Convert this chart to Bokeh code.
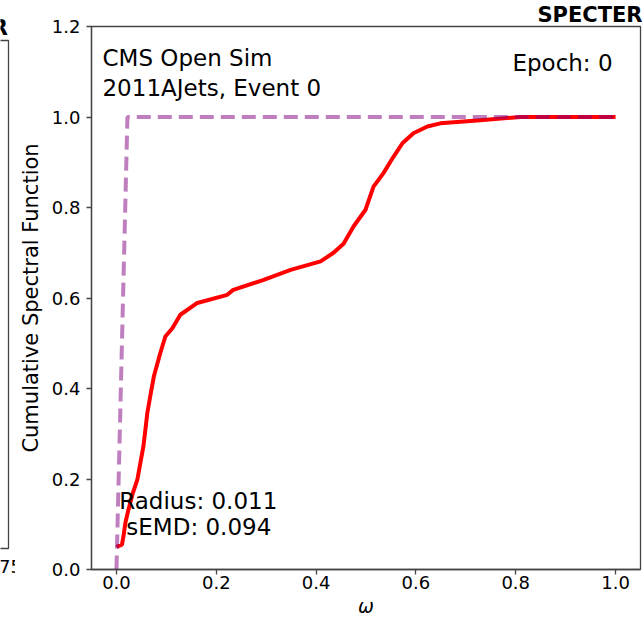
from bokeh.plotting import figure
from bokeh.models import (Range1d, Label, FixedTicker, PrintfTickFormatter,
                          BoxAnnotation)
from bokeh.embed import file_html
from bokeh.resources import INLINE

# ---- data ----
omega = [0.0, 0.011, 0.014, 0.018, 0.024, 0.032, 0.042, 0.048, 0.054, 0.062,
         0.068, 0.075, 0.088, 0.098, 0.112, 0.128, 0.162, 0.222, 0.234, 0.295,
         0.349, 0.409, 0.435, 0.455, 0.475, 0.499, 0.515, 0.535, 0.555, 0.573,
         0.595, 0.623, 0.649, 0.729, 0.81, 1.0]
csf = [0.05, 0.055, 0.073, 0.104, 0.132, 0.166, 0.199, 0.236, 0.272, 0.347,
       0.385, 0.427, 0.479, 0.515, 0.533, 0.563, 0.589, 0.607, 0.618, 0.640,
       0.662, 0.681, 0.70, 0.72, 0.758, 0.795, 0.846, 0.876, 0.912, 0.942,
       0.964, 0.979, 0.986, 0.993, 1.0, 1.0]

ref_omega = [0.0, 0.022, 1.0]
ref_csf = [0.0, 1.0, 1.0]

x_ticks = [0.0, 0.2, 0.4, 0.6, 0.8, 1.0]
y_ticks = [0.0, 0.2, 0.4, 0.6, 0.8, 1.0, 1.2]

title_text = "SPECTER"
left_panel_tick = "0.75"
info_line1 = "CMS Open Sim"
info_line2 = "2011AJets, Event 0"
epoch_text = "Epoch: 0"
radius_text = "Radius: 0.011"
semd_text = "sEMD: 0.094"
x_label = "ω"
y_label = "Cumulative Spectral Function"

FONT = "DejaVu Sans"
SPINE = "#444444"

# ---- remnant of the neighbouring panel on the left (page-pixel coords) ----
q = figure(width=15, height=619, x_range=Range1d(0, 15),
           y_range=Range1d(619, 0), x_axis_type=None, y_axis_type=None,
           toolbar_location=None, output_backend="svg", min_border_left=0,
           min_border_right=0, min_border_top=0, min_border_bottom=0,
           name="left")
q.grid.visible = False
q.outline_line_color = None
q.background_fill_color = "white"
q.border_fill_color = "white"
q.add_layout(BoxAnnotation(left=-30, right=8, top=40, bottom=548,
                           fill_alpha=0, line_color=SPINE, line_alpha=1.0,
                           line_width=1.3))
q.add_layout(Label(x=7.3, y=27, text=title_text, text_font=FONT,
                   text_font_size="21px", text_font_style="bold",
                   text_align="right", text_baseline="alphabetic",
                   text_color="black"))
q.add_layout(Label(x=21.5, y=566, text=left_panel_tick, text_font=FONT,
                   text_font_size="18px", text_align="right",
                   text_baseline="alphabetic", text_color="black"))

# ---- main panel ----
p = figure(width=627, height=619, x_range=Range1d(-0.05, 1.05),
           y_range=Range1d(0, 1.2), output_backend="svg",
           toolbar_location=None, min_border_left=76, min_border_right=2,
           min_border_top=26, min_border_bottom=49, name="main")
p.grid.visible = False
p.outline_line_color = SPINE
p.outline_line_width = 1.3
p.background_fill_color = "white"
p.border_fill_color = "white"
p.title.text = title_text
p.title.align = "right"
p.title.text_font = FONT
p.title.text_font_size = "21px"
p.title.text_font_style = "bold"
p.title.text_color = "black"
p.title.standoff = 0
p.title.offset = -2

for ax in (p.xaxis, p.yaxis):
    ax.axis_line_color = SPINE
    ax.axis_line_width = 1.3
    ax.major_tick_line_color = SPINE
    ax.major_tick_line_width = 1.3
    ax.major_tick_in = 0
    ax.major_tick_out = 5
    ax.minor_tick_line_color = None
    ax.major_label_text_font = FONT
    ax.major_label_text_font_size = "18px"
    ax.major_label_text_color = "black"
    ax.axis_label_text_font = FONT
    ax.axis_label_text_color = "black"
    ax.axis_label_text_font_style = "normal"
    ax.formatter = PrintfTickFormatter(format="%.1f")

p.xaxis.ticker = FixedTicker(ticks=x_ticks)
p.yaxis.ticker = FixedTicker(ticks=y_ticks)
p.xaxis.major_label_standoff = 1
p.yaxis.major_label_standoff = 6
p.xaxis.axis_label = x_label
p.xaxis.axis_label_text_font_style = "italic"
p.xaxis.axis_label_text_font_size = "19px"
p.xaxis.axis_label_standoff = 3
p.yaxis.axis_label = y_label
p.yaxis.axis_label_text_font_size = "21px"
p.yaxis.axis_label_standoff = 6

p.line(omega, csf, line_color="red", line_width=4)
p.line(ref_omega, ref_csf, line_color="purple", line_alpha=0.5,
       line_width=4, line_dash="14 7")


def lab(x, y, text, align="left"):
    p.add_layout(Label(x=x, y=y, text=text, text_font=FONT,
                       text_font_size="23px", text_align=align,
                       text_baseline="alphabetic", text_color="black"))


lab(-0.028, 1.130, info_line1)
lab(-0.028, 1.064, info_line2)
lab(0.994, 1.119, epoch_text, align="right")
lab(0.164, 0.152, radius_text, align="center")
lab(0.165, 0.093, semd_text, align="center")

template = """
{% block preamble %}
<style>
html, body { margin: 0; padding: 0; }
.wrap { display: flex; flex-direction: row; align-items: flex-start; }
.wrap > div { flex: none; }
</style>
{% endblock %}
{% block contents %}
<div class="wrap">
<div>{{ embed(roots.left) }}</div>
<div>{{ embed(roots.main) }}</div>
</div>
{% endblock %}
"""

open("out.html", "w").write(file_html([q, p], INLINE, template=template))
